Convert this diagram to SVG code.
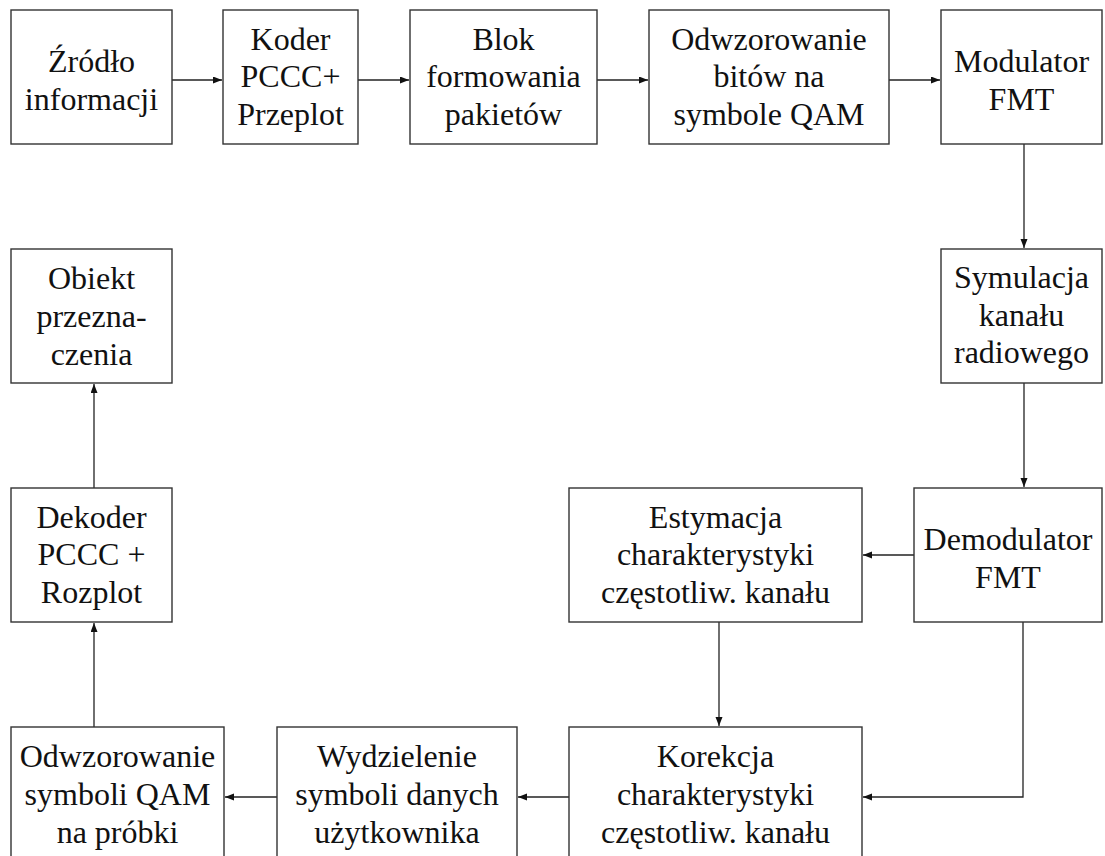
<svg xmlns="http://www.w3.org/2000/svg" width="1105" height="856" viewBox="0 0 1105 856">
<style>
.box{fill:#fff;stroke:#333;stroke-width:1.4}
.t{font-family:'Liberation Serif','Times New Roman',serif;font-size:32px;fill:#111;text-anchor:middle}
.c{fill:none;stroke:#222;stroke-width:1.3}
</style>
<defs>
<marker id="ah" markerUnits="userSpaceOnUse" markerWidth="10" markerHeight="8" refX="9" refY="3.5" orient="auto">
<path d="M0,0 L9,3.5 L0,7 z" fill="#111"/>
</marker>
</defs>
<rect width="1105" height="856" fill="#fff"/>
<g id="connectors">
<path class="c" d="M172,80 H222" marker-end="url(#ah)"/>
<path class="c" d="M358,80 H409" marker-end="url(#ah)"/>
<path class="c" d="M597,80 H648" marker-end="url(#ah)"/>
<path class="c" d="M889,80 H940" marker-end="url(#ah)"/>
<path class="c" d="M1024,144 V248" marker-end="url(#ah)"/>
<path class="c" d="M1024,383 V487" marker-end="url(#ah)"/>
<path class="c" d="M914,555 H863" marker-end="url(#ah)"/>
<path class="c" d="M1023,622 V797 H863" marker-end="url(#ah)"/>
<path class="c" d="M719,622 V726" marker-end="url(#ah)"/>
<path class="c" d="M569,797 H518" marker-end="url(#ah)"/>
<path class="c" d="M277,797 H225" marker-end="url(#ah)"/>
<path class="c" d="M94,727 V623" marker-end="url(#ah)"/>
<path class="c" d="M94,488 V384" marker-end="url(#ah)"/>
</g>
<g id="zrodlo">
<rect class="box" x="11" y="10" width="161" height="134"/>
<text class="t" x="91.5" y="72">Źródło</text>
<text class="t" x="91.5" y="110">informacji</text>
</g>
<g id="koder">
<rect class="box" x="223" y="10" width="135" height="134"/>
<text class="t" x="290.5" y="49.5">Koder</text>
<text class="t" x="290.5" y="87">PCCC+</text>
<text class="t" x="290.5" y="125">Przeplot</text>
</g>
<g id="blok">
<rect class="box" x="410" y="10" width="187" height="134"/>
<text class="t" x="503.5" y="49.5">Blok</text>
<text class="t" x="503.5" y="87">formowania</text>
<text class="t" x="503.5" y="125">pakietów</text>
</g>
<g id="odwz-bity">
<rect class="box" x="649" y="10" width="240" height="134"/>
<text class="t" x="769" y="49.5">Odwzorowanie</text>
<text class="t" x="769" y="87">bitów na</text>
<text class="t" x="769" y="125">symbole QAM</text>
</g>
<g id="modulator">
<rect class="box" x="941" y="10" width="161" height="134"/>
<text class="t" x="1021.5" y="72">Modulator</text>
<text class="t" x="1021.5" y="110">FMT</text>
</g>
<g id="symulacja">
<rect class="box" x="941" y="249" width="161" height="134"/>
<text class="t" x="1021.5" y="288">Symulacja</text>
<text class="t" x="1021.5" y="326">kanału</text>
<text class="t" x="1021.5" y="363">radiowego</text>
</g>
<g id="demodulator">
<rect class="box" x="914" y="488" width="188" height="134"/>
<text class="t" x="1008" y="550">Demodulator</text>
<text class="t" x="1008" y="588">FMT</text>
</g>
<g id="estymacja">
<rect class="box" x="569" y="488" width="293" height="134"/>
<text class="t" x="715.5" y="527.5">Estymacja</text>
<text class="t" x="715.5" y="565">charakterystyki</text>
<text class="t" x="715.5" y="603">częstotliw. kanału</text>
</g>
<g id="korekcja">
<rect class="box" x="569" y="727" width="293" height="140"/>
<text class="t" x="715.5" y="766.5">Korekcja</text>
<text class="t" x="715.5" y="805">charakterystyki</text>
<text class="t" x="715.5" y="843">częstotliw. kanału</text>
</g>
<g id="wydzielenie">
<rect class="box" x="277" y="727" width="240" height="140"/>
<text class="t" x="397" y="766.5">Wydzielenie</text>
<text class="t" x="397" y="805">symboli danych</text>
<text class="t" x="397" y="843">użytkownika</text>
</g>
<g id="odwz-symbole">
<rect class="box" x="11" y="727" width="213" height="140"/>
<text class="t" x="117.5" y="766.5">Odwzorowanie</text>
<text class="t" x="117.5" y="805">symboli QAM</text>
<text class="t" x="117.5" y="843">na próbki</text>
</g>
<g id="dekoder">
<rect class="box" x="11" y="488" width="161" height="134"/>
<text class="t" x="91.5" y="527.5">Dekoder</text>
<text class="t" x="91.5" y="565">PCCC +</text>
<text class="t" x="91.5" y="603">Rozplot</text>
</g>
<g id="obiekt">
<rect class="box" x="11" y="249" width="161" height="134"/>
<text class="t" x="91.5" y="289">Obiekt</text>
<text class="t" x="91.5" y="327">przezna-</text>
<text class="t" x="91.5" y="365">czenia</text>
</g>
</svg>
